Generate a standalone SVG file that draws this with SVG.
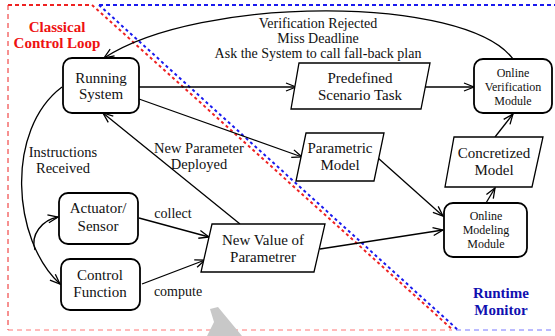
<svg xmlns="http://www.w3.org/2000/svg" width="555" height="336" viewBox="0 0 555 336">
<defs>
<marker id="arr" viewBox="0 0 12 10" refX="11" refY="5" markerWidth="12" markerHeight="10" markerUnits="userSpaceOnUse" orient="auto">
<path d="M1,1 L11,5 L1,9" fill="none" stroke="#000" stroke-width="1.3"/>
</marker>
</defs>
<style>
text{font-family:"Liberation Serif","Times New Roman",serif;font-size:14px;fill:#111;text-anchor:middle}
.n{font-size:15px}
.sm{font-size:12px}
.box{fill:#fff;stroke:#000;stroke-width:1.8}
.para{fill:#fff;stroke:#000;stroke-width:1.3}
.c{fill:none;stroke:#000;stroke-width:1.3}
.red{fill:#ee1111;font-weight:bold;font-size:15px}
.blue{fill:#1010b0;font-weight:bold;font-size:15px}
</style>
<rect width="555" height="336" fill="#fff"/>
<g id="regions">
<path d="M8,5 L92,5" stroke="#ee2222" stroke-width="2" stroke-dasharray="4,3" fill="none"/>
<path d="M8,5 L8,330" stroke="#ee2222" stroke-width="1" stroke-dasharray="5,4" fill="none"/>
<path d="M8,330 L452,330" stroke="#ff7777" stroke-width="1" stroke-dasharray="5,4" fill="none"/>
<path d="M99,5 L555,5" stroke="#1a1aee" stroke-width="2" stroke-dasharray="4,3" fill="none"/>
<path d="M456,330 L555,330" stroke="#7777ff" stroke-width="1" stroke-dasharray="5,4" fill="none"/>
<path d="M92,5 L453,330" stroke="#ee2222" stroke-width="2" stroke-dasharray="3,3" fill="none"/>
<path d="M99,5 L458,330" stroke="#1a1aee" stroke-width="2" stroke-dasharray="3,3" fill="none"/>
<text class="red" x="57" y="32">Classical</text>
<text class="red" x="57" y="48">Control Loop</text>
<text class="blue" x="501" y="298">Runtime</text>
<text class="blue" x="501" y="315">Monitor</text>
<path d="M210,309 L218,307 L242,336 L207,336 L214,322 Z" fill="#c8c8c8"/>
</g>
<g id="connectors">
<path class="c" d="M513,59 C465,-5 200,-5 104,58" marker-end="url(#arr)"/>
<path class="c" d="M139,87 L296,87" marker-end="url(#arr)"/>
<path class="c" d="M421,87 L474,87" marker-end="url(#arr)"/>
<path class="c" d="M139,99 L302,157" marker-end="url(#arr)"/>
<path class="c" d="M378,158 L443,216" marker-end="url(#arr)"/>
<path class="c" d="M486,203 L495,188" marker-end="url(#arr)"/>
<path class="c" d="M495,137 L513,114" marker-end="url(#arr)"/>
<path class="c" d="M320,249 L443,230" marker-end="url(#arr)"/>
<path class="c" d="M240,224 L103,113" marker-end="url(#arr)"/>
<path class="c" d="M139,218 L209,237" marker-end="url(#arr)"/>
<path class="c" d="M142,284 L205,260" marker-end="url(#arr)"/>
<path class="c" d="M62,87 C5,130 12,240 60,284" marker-end="url(#arr)"/>
<path class="c" d="M35,250 C30,235 42,220 58,217" marker-end="url(#arr)"/>
<text x="318" y="28">Verification Rejected</text>
<text x="318" y="43">Miss Deadline</text>
<text x="318" y="58">Ask the System to call fall-back plan</text>
<text x="199" y="153" style="font-size:14.5px">New Parameter</text>
<text x="199" y="169" style="font-size:14.5px">Deployed</text>
<text x="63" y="157" style="font-size:14.5px">Instructions</text>
<text x="63" y="173" style="font-size:14.5px">Received</text>
<text x="173" y="218">collect</text>
<text x="178" y="296">compute</text>
</g>
<g id="running-system">
<rect class="box" x="63" y="58" width="76" height="55" rx="9"/>
<text class="n" x="101" y="83">Running</text>
<text class="n" x="101" y="99">System</text>
</g>
<g id="predefined-scenario-task">
<path class="para" d="M299,63 L430,63 L421,109 L291,109 Z"/>
<text class="n" x="360" y="83">Predefined</text>
<text class="n" x="360" y="100">Scenario Task</text>
</g>
<g id="online-verification-module">
<rect class="box" x="474" y="59" width="78" height="54" rx="9"/>
<text class="sm" x="513" y="77">Online</text>
<text class="sm" x="513" y="91">Verification</text>
<text class="sm" x="513" y="105">Module</text>
</g>
<g id="parametric-model">
<path class="para" d="M306,133 L384,133 L374,181 L296,181 Z"/>
<text class="n" x="340" y="153">Parametric</text>
<text class="n" x="340" y="170">Model</text>
</g>
<g id="concretized-model">
<path class="para" d="M454,137 L543,137 L532,187 L445,187 Z"/>
<text class="n" x="494" y="158">Concretized</text>
<text class="n" x="494" y="175">Model</text>
</g>
<g id="online-modeling-module">
<rect class="box" x="444" y="203" width="83" height="54" rx="9"/>
<text class="sm" x="486" y="220">Online</text>
<text class="sm" x="486" y="234">Modeling</text>
<text class="sm" x="486" y="248">Module</text>
</g>
<g id="new-value-of-parametrer">
<path class="para" d="M212,224 L325,224 L314,272 L201,272 Z"/>
<text class="n" x="263" y="245">New Value of</text>
<text class="n" x="263" y="262">Parametrer</text>
</g>
<g id="actuator-sensor">
<rect class="box" x="59" y="193" width="79" height="51" rx="9"/>
<text class="n" x="98" y="213">Actuator/</text>
<text class="n" x="98" y="231">Sensor</text>
</g>
<g id="control-function">
<rect class="box" x="61" y="259" width="79" height="51" rx="9"/>
<text class="n" x="100" y="280">Control</text>
<text class="n" x="100" y="297">Function</text>
</g>
</svg>
